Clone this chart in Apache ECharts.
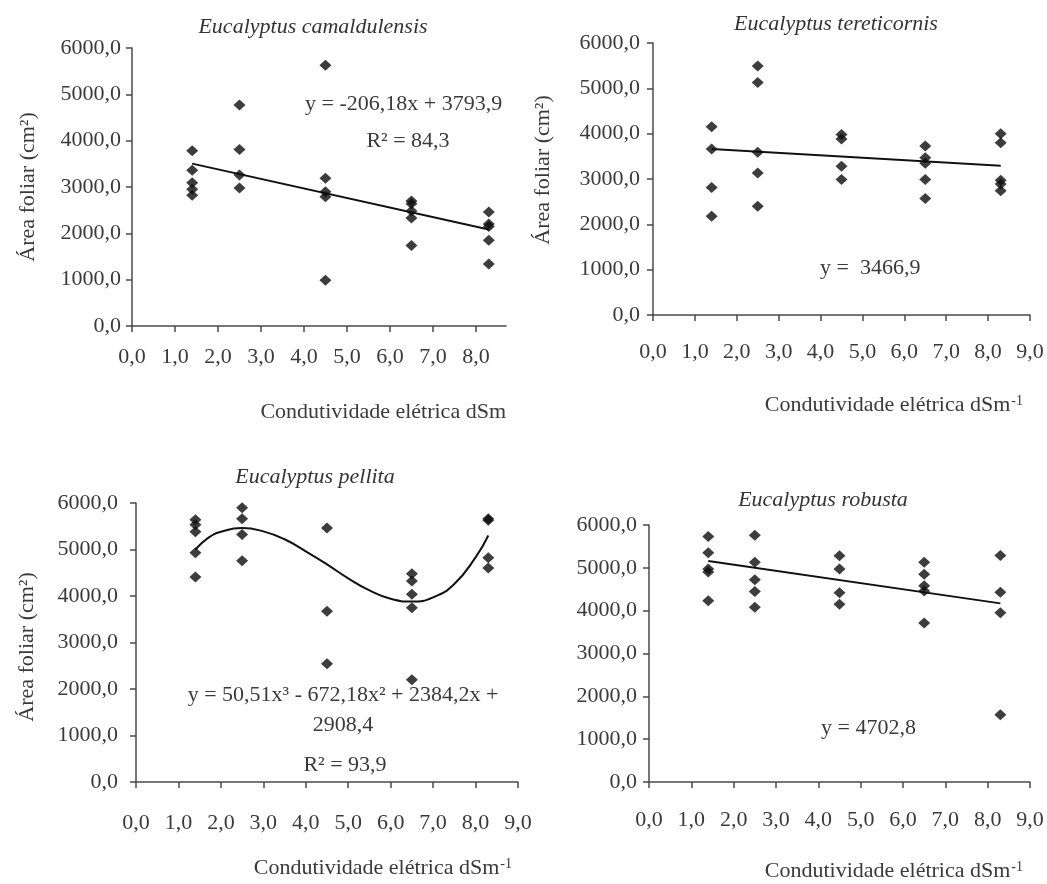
<!DOCTYPE html>
<html>
<head>
<meta charset="utf-8">
<script src="https://cdn.jsdelivr.net/npm/echarts@6/dist/echarts.min.js"></script>
<style>
html,body{margin:0;padding:0;background:#fff;}
#chart{width:1047px;height:884px;}
</style>
</head>
<body>
<div id="chart"></div>
<script>
// ---- data ----
const xLevels = [1.4, 2.5, 4.5, 6.5, 8.3];
const xTicks = [0, 1, 2, 3, 4, 5, 6, 7, 8, 9];
const yTicks = [0, 1000, 2000, 3000, 4000, 5000, 6000];

const titles = ['Eucalyptus camaldulensis', 'Eucalyptus tereticornis', 'Eucalyptus pellita', 'Eucalyptus robusta'];

const camaldulensis = [
  [3780, 3360, 3090, 2950, 2820],
  [4770, 3810, 3260, 2980],
  [5630, 3190, 2900, 2790, 990],
  [2700, 2640, 2480, 2330, 1740],
  [2460, 2200, 2150, 1850, 1340]
];
const tereticornis = [
  [4150, 3660, 2810, 2180],
  [5490, 5130, 3590, 3130, 2400],
  [3980, 3880, 3280, 2990],
  [3730, 3470, 3350, 2990, 2570],
  [4000, 3800, 2970, 2890, 2740]
];
const pellita = [
  [5640, 5530, 5380, 4930, 4410],
  [5900, 5660, 5320, 4760],
  [5460, 3670, 2545],
  [4480, 4320, 4040, 3750, 2200],
  [5660, 5630, 4820, 4600]
];
const robusta = [
  [5730, 5350, 4970, 4900, 4230],
  [5760, 5130, 4720, 4450, 4080],
  [5280, 4970, 4420, 4150],
  [5130, 4850, 4580, 4460, 3710],
  [5290, 4430, 3950, 1570]
];

// fitted trend lines
const camTrendX = [1.4, 8.3];
const camTrendY = [3505, 2083];
const tereTrendX = [1.4, 8.3];
const tereTrendY = [3660, 3290];
const pelTrendX = [1.4, 1.7, 2.0, 2.5, 3.0, 3.5, 4.0, 4.5, 5.0, 5.5, 6.0, 6.5, 7.0, 7.5, 8.0, 8.3];
const pelTrendY = [5000, 5250, 5380, 5460, 5390, 5220, 4960, 4680, 4380, 4120, 3940, 3880, 3970, 4260, 4830, 5300];
const robTrendX = [1.4, 8.3];
const robTrendY = [5160, 4170];

// ---- helpers ----
function points(groups) {
  const out = [];
  groups.forEach((g, i) => g.forEach(v => out.push([xLevels[i], v])));
  return out;
}
function pairs(xs, ys) { return xs.map((x, i) => [x, ys[i]]); }

const FONT = 'Liberation Serif, Times New Roman, serif';
const TXT = '#3a3a3a';
const AX = '#4a4a4a';
const FS = 22;

const grids = [
  {left: 132, top: 48, width: 374, height: 278},
  {left: 653, top: 43, width: 377, height: 272},
  {left: 136, top: 503, width: 382, height: 279},
  {left: 649, top: 525, width: 381, height: 257}
];
const xMax = [8.7, 9, 9, 9];
const xMargins = [20, 26, 30, 27];
const yMargins = [11, 13, 18, 12];

function fmt(v) { return v.toFixed(1).replace('.', ','); }

const xAxes = grids.map((g, i) => ({
  type: 'value', gridIndex: i, min: 0, max: xMax[i], interval: 1,
  axisLine: {show: true, onZero: false, lineStyle: {color: AX, width: 1.5}},
  axisTick: {show: true, length: 6, lineStyle: {color: AX, width: 1.5},
    customValues: xTicks.filter(t => t <= xMax[i])},
  axisLabel: {margin: xMargins[i], color: TXT, fontFamily: FONT, fontSize: FS,
    customValues: xTicks.filter(t => t <= xMax[i]), formatter: v => fmt(v)},
  splitLine: {show: false}
}));
const yAxes = grids.map((g, i) => ({
  type: 'value', gridIndex: i, min: 0, max: 6000, interval: 1000,
  axisLine: {show: true, lineStyle: {color: AX, width: 1.5}},
  axisTick: {show: true, length: 6, lineStyle: {color: AX, width: 1.5}},
  axisLabel: {margin: yMargins[i], color: TXT, fontFamily: FONT, fontSize: FS, formatter: v => fmt(v)},
  splitLine: {show: false}
}));

const scatterSets = [camaldulensis, tereticornis, pellita, robusta];
const trends = [pairs(camTrendX, camTrendY), pairs(tereTrendX, tereTrendY), pairs(pelTrendX, pelTrendY), pairs(robTrendX, robTrendY)];

const series = [];
scatterSets.forEach((s, i) => {
  series.push({
    type: 'line', xAxisIndex: i, yAxisIndex: i, data: trends[i],
    showSymbol: false, smooth: i === 2 ? 0.5 : false,
    lineStyle: {color: '#111', width: 2}, z: 2, silent: true
  });
  series.push({
    type: 'scatter', xAxisIndex: i, yAxisIndex: i, data: points(s),
    symbol: 'diamond', symbolSize: [12, 11],
    itemStyle: {color: '#0d0d0d'}, z: 3, silent: true
  });
});

function txt(x, y, text, opts) {
  return Object.assign({
    type: 'text', x: x, y: y, silent: true,
    style: Object.assign({text: text, fill: TXT, fontFamily: FONT, fontSize: FS,
      align: 'center', verticalAlign: 'middle'}, (opts && opts.style) || {})
  }, (opts && opts.el) || {});
}
const supRich = {
  n: {fontFamily: FONT, fontSize: FS, fill: TXT, color: TXT},
  s: {fontFamily: FONT, fontSize: 14, fill: TXT, color: TXT, verticalAlign: 'top', padding: [0, 0, 0, 1]}
};

const graphics = [
  // titles
  txt(313, 27, titles[0], {style: {fontStyle: 'italic', fill: '#333'}}),
  txt(836, 24, titles[1], {style: {fontStyle: 'italic', fill: '#333'}}),
  txt(315, 477, titles[2], {style: {fontStyle: 'italic', fill: '#333'}}),
  txt(823, 500, titles[3], {style: {fontStyle: 'italic', fill: '#333'}}),
  // y axis names
  txt(28, 187, 'Área foliar (cm²)', {el: {rotation: Math.PI / 2}}),
  txt(543, 170, 'Área foliar (cm²)', {el: {rotation: Math.PI / 2}}),
  txt(27, 647, 'Área foliar (cm²)', {el: {rotation: Math.PI / 2}}),
  // x axis names
  txt(506, 412, 'Condutividade elétrica dSm', {style: {align: 'right'}}),
  txt(1023, 405, '{n|Condutividade elétrica dSm}{s|-1}', {style: {align: 'right', rich: supRich}}),
  txt(512, 868, '{n|Condutividade elétrica dSm}{s|-1}', {style: {align: 'right', rich: supRich}}),
  txt(1023, 871, '{n|Condutividade elétrica dSm}{s|-1}', {style: {align: 'right', rich: supRich}}),
  // annotations
  txt(305, 104, 'y = -206,18x + 3793,9', {style: {align: 'left'}}),
  txt(408, 141, 'R² = 84,3'),
  txt(820, 268, 'y =  3466,9', {style: {align: 'left'}}),
  txt(343, 695, 'y = 50,51x³ - 672,18x² + 2384,2x +'),
  txt(343, 725, '2908,4'),
  txt(345, 765, 'R² = 93,9'),
  txt(821, 728, 'y = 4702,8', {style: {align: 'left'}})
];

const chart = echarts.init(document.getElementById('chart'), null, {renderer: 'canvas'});
chart.setOption({
  backgroundColor: '#ffffff',
  animation: false,
  grid: grids.map(g => Object.assign({containLabel: false}, g)),
  xAxis: xAxes,
  yAxis: yAxes,
  series: series,
  graphic: graphics
});
</script>
</body>
</html>
